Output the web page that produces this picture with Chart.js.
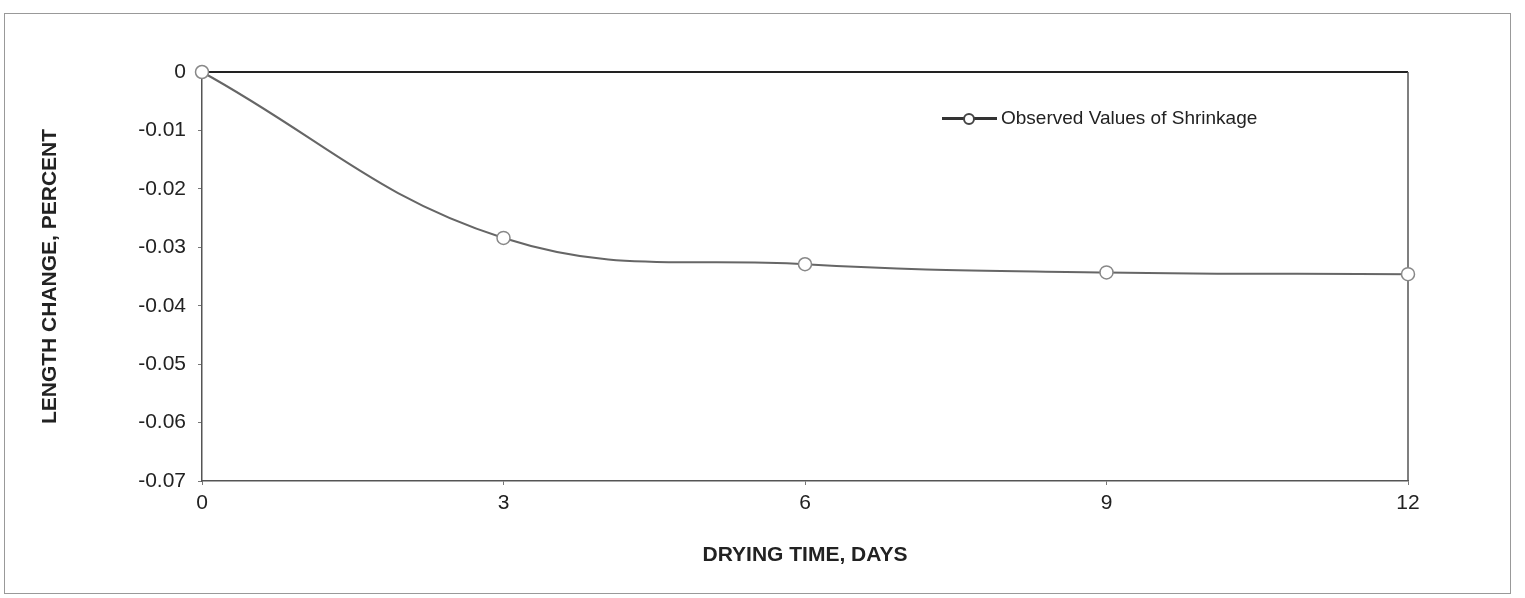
<!DOCTYPE html>
<html>
<head>
<meta charset="utf-8">
<script src="https://cdn.jsdelivr.net/npm/chart.js@4"></script>
<style>
  html, body { margin: 0; padding: 0; background: #fff; }
  #wrap { position: relative; width: 1525px; height: 598px; }
  #frame { position: absolute; left: 4px; top: 13px; width: 1507px; height: 581px; border: 1px solid #999; box-sizing: border-box; }
  #legend { position: absolute; left: 942px; top: 106px; height: 24px; font: 19px "Liberation Sans", Arial, sans-serif; color: #222; display: flex; align-items: center; }
  #legend .sym { position: relative; width: 55px; height: 24px; margin-right: 4px; }
  #legend .sym .ln { position: absolute; left: 0; right: 0; top: 11px; height: 3px; background: #333; }
  #legend .sym .dot { position: absolute; left: 21px; top: 7px; width: 8px; height: 8px; border: 2px solid #444; border-radius: 50%; background: #fff; }
</style>
</head>
<body>
<div id="wrap">
  <div id="frame"></div>
  <canvas id="shrinkChart" width="1525" height="598"></canvas>
  <div id="legend"><span class="sym"><span class="ln"></span><span class="dot"></span></span>Observed Values of Shrinkage</div>
</div>
<script>
// dados
const dryingDays = [0, 3, 6, 9, 12];
const lengthChange = [0, -0.0284, -0.0329, -0.0343, -0.0346];
const xTicks = [0, 3, 6, 9, 12];
const yTicks = [0, -0.01, -0.02, -0.03, -0.04, -0.05, -0.06, -0.07];

const fontFamily = '"Liberation Sans", Arial, sans-serif';

// borda de cima (escura) e da direita da área do gráfico
const boxPlugin = {
  id: "box",
  beforeDatasetsDraw(chart) {
    const a = chart.chartArea;
    const ctx = chart.ctx;
    ctx.save();
    ctx.strokeStyle = "#222";
    ctx.lineWidth = 2;
    ctx.beginPath();
    ctx.moveTo(a.left, a.top);
    ctx.lineTo(a.right, a.top);
    ctx.stroke();
    ctx.strokeStyle = "#555";
    ctx.lineWidth = 1.5;
    ctx.beginPath();
    ctx.moveTo(a.right, a.top);
    ctx.lineTo(a.right, a.bottom);
    ctx.stroke();
    ctx.restore();
  },
};

const ctx = document.getElementById("shrinkChart");
new Chart(ctx, {
  type: "line",
  data: {
    datasets: [
      {
        label: "Observed Values of Shrinkage",
        data: dryingDays.map((d, i) => ({ x: d, y: lengthChange[i] })),
        borderColor: "#666",
        borderWidth: 2,
        tension: 0.4,
        pointRadius: 6.5,
        pointBackgroundColor: "#fff",
        pointBorderColor: "#888",
        pointBorderWidth: 1.5,
        clip: false,
      },
    ],
  },
  options: {
    responsive: false,
    animation: false,
    layout: { padding: { left: 38, right: 117, top: 72, bottom: 30 } },
    plugins: { legend: { display: false }, tooltip: { enabled: false } },
    scales: {
      x: {
        type: "linear",
        min: 0,
        max: 12,
        afterBuildTicks: (s) => { s.ticks = xTicks.map((v) => ({ value: v })); },
        afterFit: (s) => { s.height = 87; },
        ticks: { color: "#222", font: { family: fontFamily, size: 21 }, padding: 6, maxRotation: 0 },
        grid: { display: true, drawOnChartArea: false, tickLength: 4, color: "#777" },
        border: { color: "#555", width: 1.5 },
        title: {
          display: true,
          text: "DRYING TIME, DAYS",
          color: "#222",
          font: { family: fontFamily, size: 21, weight: "bold" },
          padding: 0,
        },
      },
      y: {
        type: "linear",
        min: -0.07,
        max: 0,
        afterBuildTicks: (s) => { s.ticks = yTicks.map((v) => ({ value: v })); },
        afterFit: (s) => { s.width = 164; },
        ticks: {
          color: "#222",
          font: { family: fontFamily, size: 21 },
          padding: 12,
          callback: (v) => (v === 0 ? "0" : v.toFixed(2)),
        },
        grid: { display: true, drawOnChartArea: false, tickLength: 4, color: "#777" },
        border: { color: "#555", width: 1.5 },
        title: {
          display: true,
          text: "LENGTH CHANGE, PERCENT",
          color: "#222",
          font: { family: fontFamily, size: 21, weight: "bold" },
          padding: 0,
        },
      },
    },
  },
  plugins: [boxPlugin],
});
</script>
</body>
</html>
